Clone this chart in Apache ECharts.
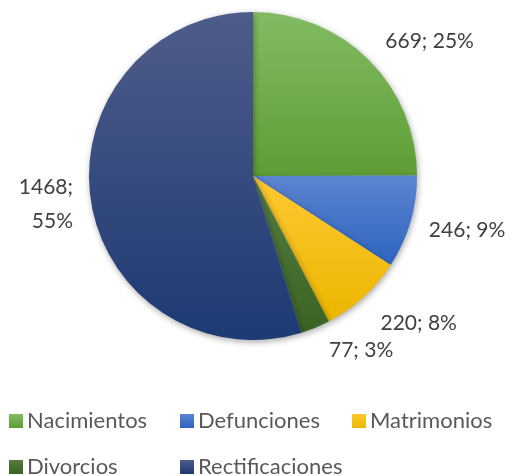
<!DOCTYPE html>
<html><head><meta charset="utf-8">
<script src="https://cdn.jsdelivr.net/npm/echarts@6/dist/echarts.min.js"></script>
<style>html,body{margin:0;padding:0;background:#fff}#c{width:516px;height:476px}</style>
</head><body><div id="c"></div>
<script>
const categories = ['Nacimientos', 'Defunciones', 'Matrimonios', 'Divorcios', 'Rectificaciones'];
const values = [669, 246, 220, 77, 1468];
const gradTop = ['#82bb62', '#5c84cf', '#ffc832', '#557d42', '#4f5c89'];
const gradBottom = ['#5e9e35', '#2e64c0', '#ebb700', '#3a6323', '#1d3a73'];

const FONT = 'Lato';
function grad(i){
  return new echarts.graphic.LinearGradient(0,0,0,1,[{offset:0,color:gradTop[i]},{offset:1,color:gradBottom[i]}]);
}
const data = categories.map((n,i)=>{
  const d = {name:n, value:values[i], itemStyle:{color:grad(i)}};
  if(i===4) d.label = {formatter:'{c};\n{d}%', align:'center'};
  return d;
});
const labelShift = [[-5,-10],[-6,5],[-4,17],[-4,11],[7,2]];
const legendPos = [[4,405],[175,405],[347,405],[4,451],[175,451]];
const legends = categories.map((n,i)=>({
  data:[n], left:legendPos[i][0], top:legendPos[i][1], icon:'rect', itemWidth:14, itemHeight:14, itemGap:0,
  textStyle:{fontFamily:FONT, fontSize:22, color:'#595959', padding:[0,0,0,-1]}, selectedMode:false
}));
const chart = echarts.init(document.getElementById('c'), null, {renderer:'canvas'});
chart.setOption({
  animation:false,
  legend: legends,
  series:[{
    type:'pie', center:[253,176], radius:164, startAngle:90, clockwise:true,
    percentPrecision:0, avoidLabelOverlap:false,
    itemStyle:{shadowBlur:6, shadowColor:'rgba(0,0,0,0.35)', shadowOffsetX:1, shadowOffsetY:2},
    label:{show:true, position:'outside', overflow:'none', formatter:'{c}; {d}%', fontFamily:FONT, fontSize:21, color:'#404040', lineHeight:34},
    labelLine:{show:false, length:12, length2:8},
    labelLayout:function(p){ const s = labelShift[p.dataIndex]; return {dx:s[0], dy:s[1]}; },
    data:data
  }]
});
</script></body></html>
